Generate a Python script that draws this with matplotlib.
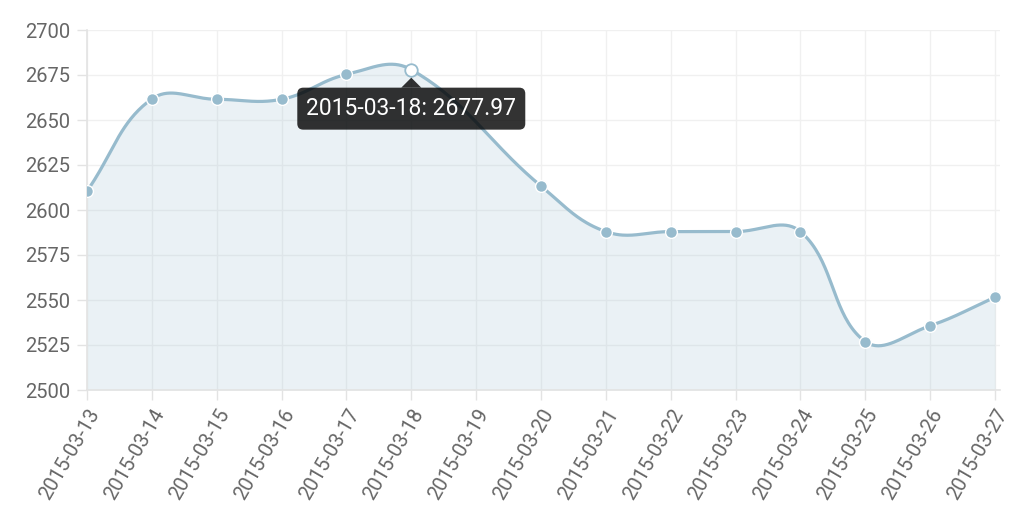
import numpy as np
import matplotlib.pyplot as plt
from matplotlib.patches import FancyBboxPatch, Polygon

plt.rcParams['font.family'] = ['Roboto', 'DejaVu Sans']

# data (2015-03-19 has no value, the line spans over it)
dates = ['2015-03-13', '2015-03-14', '2015-03-15', '2015-03-16', '2015-03-17',
         '2015-03-18', '2015-03-19', '2015-03-20', '2015-03-21', '2015-03-22',
         '2015-03-23', '2015-03-24', '2015-03-25', '2015-03-26', '2015-03-27']
values = [2610.5, 2661.7, 2661.5, 2661.5, 2675.3,
          2677.97, None, 2613.3, 2588.0, 2588.0,
          2588.0, 2588.0, 2526.9, 2535.7, 2551.5]
y_ticks = [2500, 2525, 2550, 2575, 2600, 2625, 2650, 2675, 2700]
hover = 5  # point under the tooltip

line_col = (151/255, 187/255, 205/255)
grid_col = '#f0f0f0'
axis_col = '#e3e3e3'
text_col = '#666666'

W, H = 1024, 518
fig = plt.figure(figsize=(W/100, H/100), dpi=100)
ax = fig.add_axes([87/W, 1 - 390/H, (1000 - 87)/W, (390 - 30)/H])
n = len(dates)
ax.set_xlim(0, (n - 1) * 913 / 908)
ax.set_ylim(y_ticks[0], y_ticks[-1])

# chart.js style bezier (tension 0.4) computed in pixel space
idx = [i for i, v in enumerate(values) if v is not None]
pts = ax.transData.transform(np.array([[i, values[i]] for i in idx]))
t = 0.4
inner, outer = [], []
for k in range(len(pts)):
    p0 = pts[k - 1] if k > 0 else pts[k]
    p1 = pts[k]
    p2 = pts[k + 1] if k < len(pts) - 1 else pts[k]
    d01 = np.hypot(*(p1 - p0))
    d12 = np.hypot(*(p2 - p1))
    s = d01 + d12
    fa = t * d01 / s if s else 0
    fb = t * d12 / s if s else 0
    inner.append(p1 - fa * (p2 - p0))
    outer.append(p1 + fb * (p2 - p0))
curve = []
u = np.linspace(0, 1, 40)[:, None]
for k in range(len(pts) - 1):
    a, b, c, d = pts[k], outer[k], inner[k + 1], pts[k + 1]
    seg = (1-u)**3*a + 3*(1-u)**2*u*b + 3*(1-u)*u**2*c + u**3*d
    curve.append(seg if k == 0 else seg[1:])
curve = ax.transData.inverted().transform(np.vstack(curve))

ax.fill_between(curve[:, 0], curve[:, 1], y_ticks[0],
                color=line_col, alpha=0.2, lw=0, zorder=2)
ax.plot(curve[:, 0], curve[:, 1], color=line_col, lw=2.3, zorder=3,
        solid_capstyle='round')
px = [i for i in idx if i != hover]
ax.plot(px, [values[i] for i in px], 'o', ms=8.5, mfc=line_col,
        mec='white', mew=1, zorder=4, ls='none')
ax.plot([hover], [values[hover]], 'o', ms=9, mfc='white', mec=line_col,
        mew=1.3, zorder=5, ls='none')

# grid / axes
ax.set_xticks(range(n))
ax.set_xticklabels(dates, rotation=60, ha='right', va='top',
                   rotation_mode='anchor')
ax.set_yticks(y_ticks)
ax.grid(True, color=grid_col, lw=1, zorder=0)
for side in ['top', 'right']:
    ax.spines[side].set_visible(False)
for side in ['left', 'bottom']:
    ax.spines[side].set_color(axis_col)
    ax.spines[side].set_linewidth(1.2)
ax.tick_params(axis='both', colors=axis_col, length=7, width=1,
               labelcolor=text_col, labelsize=14.5, pad=5)
ax.tick_params(axis='x', pad=4)

# tooltip for the hovered point
hx, hy = ax.transData.transform((hover, values[hover]))
bw, bh = 228, 42
top = hy - 18
box = FancyBboxPatch((hx - bw/2, top - bh), bw, bh,
                     boxstyle='round,pad=0,rounding_size=6',
                     transform=None, fc=(0, 0, 0, 0.8), ec='none', zorder=10)
fig.patches.append(box)
caret = Polygon([[hx - 10, top], [hx + 10, top], [hx, top + 10]], closed=True,
                transform=None, fc=(0, 0, 0, 0.8), ec='none', zorder=10)
fig.patches.append(caret)
fig.text(hx / W, (top - bh/2) / H,
         '%s: %.2f' % (dates[hover], values[hover]),
         color='white', fontsize=16.5, ha='center', va='center', zorder=11)

fig.savefig('out.png', dpi=100)
